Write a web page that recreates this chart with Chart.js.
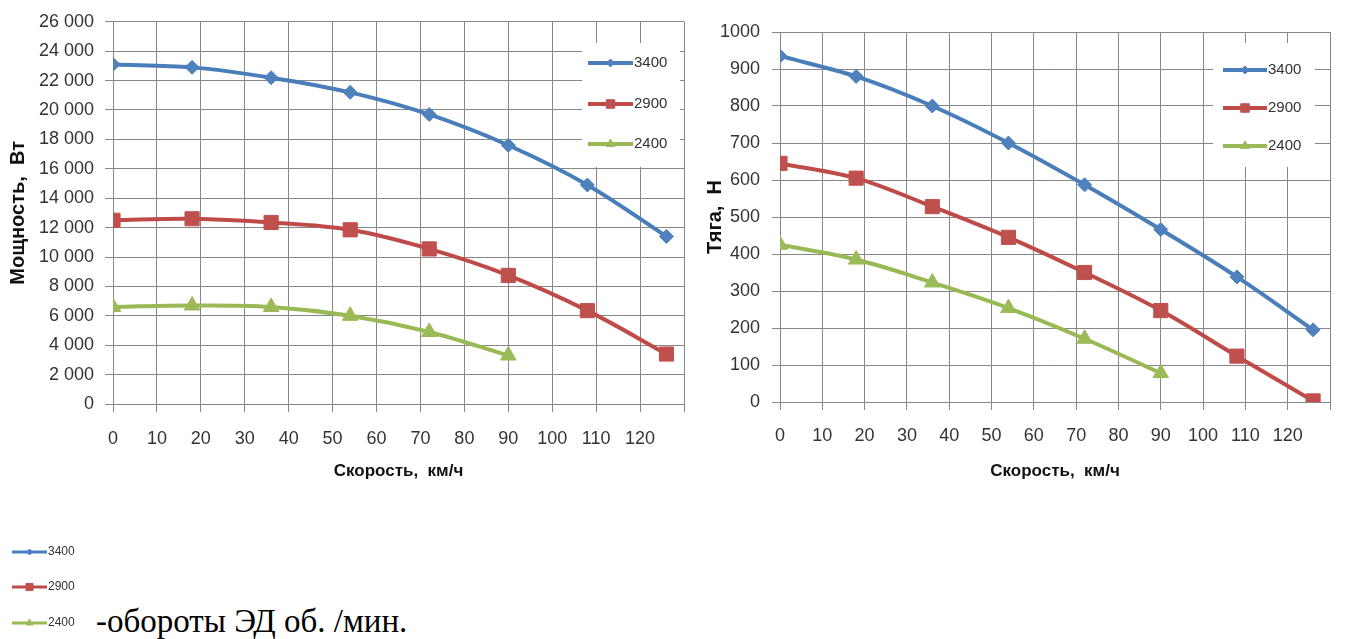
<!DOCTYPE html>
<html>
<head>
<meta charset="utf-8">
<script src="https://cdn.jsdelivr.net/npm/chart.js@4.4.1/dist/chart.umd.min.js"></script>
<style>
  body { margin: 0; background: #fff; width: 1345px; height: 639px; overflow: hidden; position: relative; }
  #powerChart { position: absolute; left: 0; top: 0; }
  #thrustChart { position: absolute; left: 700px; top: 0; }
  #keyCanvas { position: absolute; left: 0; top: 530px; }
  #note { position: absolute; left: 96px; top: 605px; font-family: 'Liberation Serif', 'Times New Roman', serif; font-size: 33px; line-height: 33px; color: #000; white-space: nowrap; }
</style>
</head>
<body>
<canvas id="powerChart" width="700" height="490"></canvas>
<canvas id="thrustChart" width="645" height="490"></canvas>
<canvas id="keyCanvas" width="90" height="109"></canvas>
<div id="note">-обороты ЭД об. /мин.</div>
<script>
// speed points, km/h
var speeds = [0, 18, 36, 54, 72, 90, 108, 126];
var seriesNames = ['3400', '2900', '2400'];

// power, W
var power3400 = [23100, 22900, 22200, 21200, 19700, 17600, 14900, 11400];
var power2900 = [12500, 12600, 12350, 11850, 10550, 8750, 6350, 3400];
var power2400 = [6600, 6700, 6600, 6000, 4900, 3300];

// thrust, N
var thrust3400 = [935, 880, 800, 700, 587, 466, 338, 195];
var thrust2900 = [645, 605, 528, 445, 350, 247, 124, 3];
var thrust2400 = [425, 385, 323, 254, 171, 78];

// axis ticks
var speedMax = 130;
var speedStep = 10;
var speedLabelMax = 120;
var powerMax = 26000;
var powerStep = 2000;
var thrustMax = 1000;
var thrustStep = 100;

var lineColors = ['#4A7EBB', '#BE4B48', '#98B954'];
var markColors = ['#4F81BD', '#C0504D', '#9BBB59'];
var shapes = ['rectRot', 'rect', 'triangle'];
var markSizes = [7, 10, 9];
var gridColor = '#878787';
var textColor = '#333';
var sans = "'Liberation Sans', Arial, sans-serif";

function makePoints(xs, ys) {
  var pts = [];
  for (var i = 0; i < ys.length; i++) {
    pts.push({ x: xs[i], y: ys[i] });
  }
  return pts;
}

function makeDataset(i, values) {
  return {
    label: seriesNames[i],
    data: makePoints(speeds, values),
    borderColor: lineColors[i],
    backgroundColor: markColors[i],
    borderWidth: 4,
    pointStyle: shapes[i],
    pointRadius: markSizes[i],
    pointHoverRadius: markSizes[i],
    pointBackgroundColor: markColors[i],
    pointBorderColor: markColors[i],
    pointBorderWidth: 1,
    tension: 0.35
  };
}

function spaced(v) {
  return String(v).replace(/\B(?=(\d{3})+(?!\d))/g, ' ');
}

// legend drawn inside the plot area, like the excel one
var innerLegend = {
  id: 'innerLegend',
  beforeDatasetsDraw: function(chart, args, opts) {
    var ctx = chart.ctx;
    var sets = chart.data.datasets;
    ctx.save();
    ctx.fillStyle = '#fff';
    ctx.fillRect(opts.box[0], opts.box[1], opts.box[2], opts.box[3]);
    for (var i = 0; i < sets.length; i++) {
      var y = opts.rows[i];
      ctx.strokeStyle = sets[i].borderColor;
      ctx.lineWidth = 4;
      ctx.beginPath();
      ctx.moveTo(opts.lineX[0], y);
      ctx.lineTo(opts.lineX[1], y);
      ctx.stroke();
      ctx.fillStyle = sets[i].pointBackgroundColor;
      ctx.strokeStyle = sets[i].pointBorderColor;
      ctx.lineWidth = 1;
      Chart.helpers.drawPoint(ctx, { pointStyle: sets[i].pointStyle, radius: opts.marks[i], borderWidth: 1, rotation: 0 }, (opts.lineX[0] + opts.lineX[1]) / 2, y);
      ctx.fillStyle = textColor;
      ctx.font = '15px ' + sans;
      ctx.textBaseline = 'middle';
      ctx.textAlign = 'left';
      ctx.fillText(sets[i].label, opts.lineX[1] + 1, y);
    }
    ctx.restore();
  }
};

function makeChart(canvasId, sets, yMax, yStep, yTitle, fmt, L) {
  return new Chart(document.getElementById(canvasId), {
    type: 'line',
    data: { datasets: sets },
    plugins: [innerLegend],
    options: {
      responsive: false,
      animation: false,
      layout: { padding: { left: 0, right: 8, top: L.top, bottom: 0 } },
      plugins: {
        legend: { display: false },
        tooltip: { enabled: false },
        innerLegend: L.legend
      },
      scales: {
        x: {
          type: 'linear',
          min: 0,
          max: speedMax,
          ticks: {
            stepSize: speedStep,
            padding: L.xPad,
            color: textColor,
            font: { family: sans, size: 18 },
            maxRotation: 0,
            autoSkip: false,
            callback: function(v) { return v > speedLabelMax ? '' : v; }
          },
          grid: { color: gridColor, lineWidth: 1, tickLength: 8 },
          border: { color: gridColor },
          title: {
            display: true,
            text: 'Скорость,  км/ч',
            color: '#111',
            font: { family: sans, size: 17, weight: 'bold' },
            padding: { top: 0, bottom: 8 }
          },
          afterFit: function(s) { s.height = L.xHeight; }
        },
        y: {
          min: 0,
          max: yMax,
          ticks: {
            stepSize: yStep,
            padding: L.yPad,
            color: textColor,
            font: { family: sans, size: 18 },
            callback: fmt
          },
          grid: { color: gridColor, lineWidth: 1, tickLength: 8 },
          border: { color: gridColor },
          title: {
            display: true,
            text: yTitle,
            color: '#111',
            font: { family: sans, size: 20, weight: 'bold' },
            padding: { top: L.yTitlePad, bottom: 0 }
          },
          afterFit: function(s) { s.width = L.yWidth; }
        }
      }
    }
  });
}

var powerSets = [makeDataset(0, power3400), makeDataset(1, power2900), makeDataset(2, power2400)];
var thrustSets = [makeDataset(0, thrust3400), makeDataset(1, thrust2900), makeDataset(2, thrust2400)];

makeChart('powerChart', powerSets, powerMax, powerStep, 'Мощность,  Вт', spaced, {
  top: 20, xHeight: 86, xPad: 16, yWidth: 113, yPad: 11, yTitlePad: 6,
  legend: { box: [582, 43, 98, 124], lineX: [588, 633], rows: [63, 104, 144], marks: [4, 6, 5] }
});

makeChart('thrustChart', thrustSets, thrustMax, thrustStep, 'Тяга,  Н', function(v) { return v; }, {
  top: 32, xHeight: 88, xPad: 15, yWidth: 80, yPad: 12, yTitlePad: 3,
  legend: { box: [513, 43, 102, 124], lineX: [523, 567], rows: [70, 108, 146], marks: [4, 6, 5] }
});

// small key under the charts
var key = document.getElementById('keyCanvas').getContext('2d');
var keyRows = [22, 57, 93];
for (var i = 0; i < seriesNames.length; i++) {
  key.strokeStyle = lineColors[i];
  key.lineWidth = 3;
  key.beginPath();
  key.moveTo(12, keyRows[i]);
  key.lineTo(47, keyRows[i]);
  key.stroke();
  key.fillStyle = markColors[i];
  key.strokeStyle = markColors[i];
  key.lineWidth = 1;
  Chart.helpers.drawPoint(key, { pointStyle: shapes[i], radius: [3, 5, 4][i], borderWidth: 1, rotation: 0 }, 29.5, keyRows[i]);
  key.fillStyle = textColor;
  key.font = '12px ' + sans;
  key.textBaseline = 'middle';
  key.fillText(seriesNames[i], 48, keyRows[i]);
}
</script>
</body>
</html>
